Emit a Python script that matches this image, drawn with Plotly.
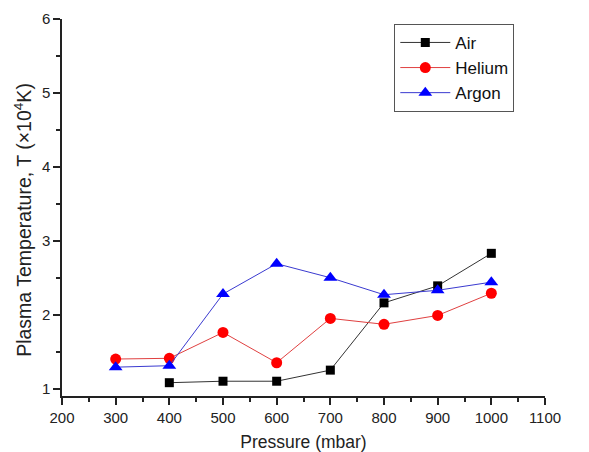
import plotly.graph_objects as go

pressure_air = [400, 500, 600, 700, 800, 900, 1000]
air = [1.08, 1.10, 1.10, 1.25, 2.16, 2.39, 2.83]
pressure_gas = [300, 400, 500, 600, 700, 800, 900, 1000]
helium = [1.40, 1.41, 1.76, 1.35, 1.95, 1.87, 1.99, 2.29]
argon = [1.29, 1.31, 2.28, 2.69, 2.50, 2.27, 2.33, 2.44]

x_ticks = [200, 300, 400, 500, 600, 700, 800, 900, 1000, 1100]
y_ticks = [1, 2, 3, 4, 5, 6]

font = "Liberation Sans, Arial, sans-serif"

fig = go.Figure()
fig.add_trace(go.Scatter(x=pressure_air, y=air, name="Air", mode="lines+markers",
                         line=dict(color="#333333", width=1),
                         marker=dict(symbol="square", size=9, color="black")))
fig.add_trace(go.Scatter(x=pressure_gas, y=helium, name="Helium", mode="lines+markers",
                         line=dict(color="#e04040", width=1),
                         marker=dict(symbol="circle", size=11, color="#ff0000")))
fig.add_trace(go.Scatter(x=pressure_gas, y=argon, name="Argon", mode="lines+markers",
                         line=dict(color="#3a3ad0", width=1),
                         marker=dict(symbol="triangle-up", size=12, color="#0000ff")))

fig.update_layout(
    width=589, height=452,
    margin=dict(l=62, r=44, t=19, b=56),
    paper_bgcolor="white", plot_bgcolor="white",
    font=dict(family=font, size=15, color="#222222"),
    showlegend=True,
    legend=dict(x=0.688, y=0.987, xanchor="left", yanchor="top",
                bordercolor="#555555", borderwidth=1, bgcolor="white",
                font=dict(size=17, color="#111111"),
                tracegroupgap=0, itemwidth=50),
    xaxis=dict(range=[200, 1100], tickvals=x_ticks, showgrid=False, zeroline=False,
               showline=True, linecolor="#222222", linewidth=1.5, automargin=False,
               ticks="outside", ticklen=7, tickwidth=1.5, tickcolor="#222222",
               minor=dict(ticks="outside", ticklen=4, dtick=50, tickwidth=1.5, tickcolor="#222222"),
               tickfont=dict(size=15),
               title=dict(text="Pressure (mbar)", font=dict(size=17.5), standoff=14)),
    yaxis=dict(range=[0.9, 6], tickvals=y_ticks, showgrid=False, zeroline=False,
               showline=True, linecolor="#222222", linewidth=1.5, automargin=False,
               ticks="outside", ticklen=7, tickwidth=1.5, tickcolor="#222222",
               minor=dict(ticks="outside", ticklen=4, dtick=0.5, tickwidth=1.5, tickcolor="#222222"),
               tickfont=dict(size=15)),
)

fig.add_annotation(text="Plasma Temperature, T (×10<sup>4</sup>K)",
                   xref="paper", yref="paper", x=-0.081, y=0.467,
                   xanchor="center", yanchor="middle", textangle=-90,
                   showarrow=False, font=dict(size=19.5, color="#222222"))

fig.write_html("out.html")
